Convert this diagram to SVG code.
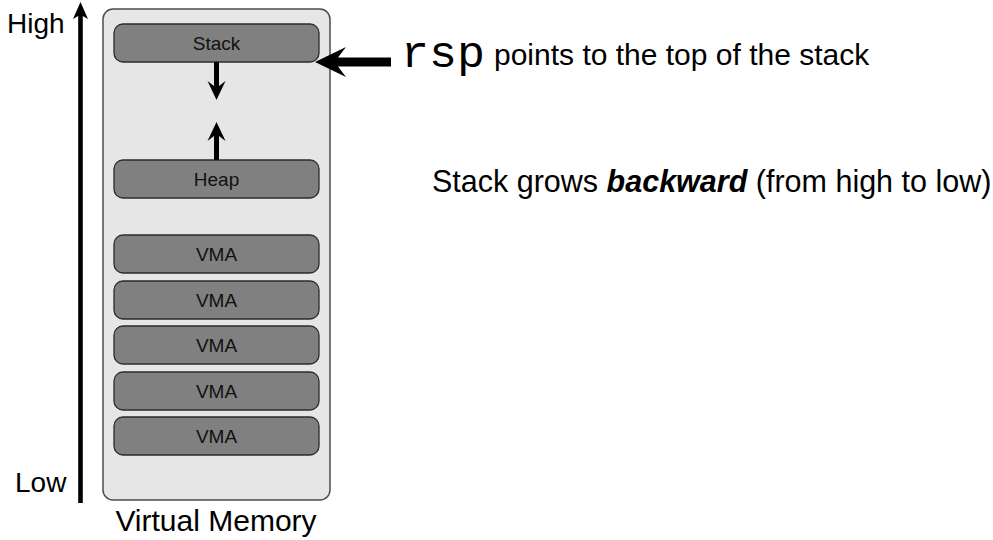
<svg xmlns="http://www.w3.org/2000/svg" width="993" height="540" viewBox="0 0 993 540">
  <style>
    .sans { font-family: "Liberation Sans", Arial, sans-serif; fill: #000; }
    .mono { font-family: "Liberation Mono", "Courier New", monospace; fill: #000; }
    .region { fill: #808080; stroke: #2b2b2b; stroke-width: 1.3; }
    .region-label { font-family: "Liberation Sans", Arial, sans-serif; font-size: 19px; fill: #111; text-anchor: middle; }
    .arrow { fill: #000; stroke: none; }
  </style>

  <rect width="993" height="540" fill="#fff"/>

  <!-- address space container -->
  <g id="virtual-memory">
    <rect x="103" y="9" width="227" height="491" rx="10" ry="10" fill="#e6e6e6" stroke="#4d4d4d" stroke-width="1.5"/>
    <text class="sans" x="216" y="531" font-size="30" text-anchor="middle">Virtual Memory</text>
  </g>

  <g id="stack">
    <rect class="region" x="114" y="24" width="205" height="38" rx="9" ry="9"/>
    <text class="region-label" x="216.5" y="50">Stack</text>
  </g>

  <g id="heap">
    <rect class="region" x="114" y="160" width="205" height="38" rx="9" ry="9"/>
    <text class="region-label" x="216.5" y="186">Heap</text>
  </g>

  <g id="vma1">
    <rect class="region" x="114" y="235" width="205" height="38" rx="9" ry="9"/>
    <text class="region-label" x="216.5" y="261">VMA</text>
  </g>
  <g id="vma2">
    <rect class="region" x="114" y="281" width="205" height="38" rx="9" ry="9"/>
    <text class="region-label" x="216.5" y="307">VMA</text>
  </g>
  <g id="vma3">
    <rect class="region" x="114" y="326" width="205" height="38" rx="9" ry="9"/>
    <text class="region-label" x="216.5" y="352">VMA</text>
  </g>
  <g id="vma4">
    <rect class="region" x="114" y="372" width="205" height="38" rx="9" ry="9"/>
    <text class="region-label" x="216.5" y="398">VMA</text>
  </g>
  <g id="vma5">
    <rect class="region" x="114" y="417" width="205" height="38" rx="9" ry="9"/>
    <text class="region-label" x="216.5" y="443">VMA</text>
  </g>

  <!-- address axis -->
  <g id="axis">
    <text class="sans" x="7" y="33" font-size="28">High</text>
    <text class="sans" x="15" y="492" font-size="28">Low</text>
  </g>

  <g id="annotations">
    <text class="mono" x="401" y="67" font-size="45" textLength="84" lengthAdjust="spacingAndGlyphs">rsp</text>
    <text class="sans" x="494" y="65" font-size="30">points to the top of the stack</text>
    <text class="sans" x="432" y="192" font-size="30.5">Stack grows <tspan font-weight="bold" font-style="italic">backward</tspan> (from high to low)</text>
  </g>

  <!-- connectors -->
  <g id="connectors">
    <!-- address axis arrow, pointing up -->
    <polygon class="arrow" points="80.5,2 88,19 82.8,16 82.8,503 78.2,503 78.2,16 73,19"/>
    <!-- stack growth, pointing down -->
    <polygon class="arrow" points="216.5,100 225.5,81 219,86 219,62 214,62 214,86 207.5,81"/>
    <!-- heap growth, pointing up -->
    <polygon class="arrow" points="216.5,122 225.5,141 219,136 219,160 214,160 214,136 207.5,141"/>
    <!-- rsp pointer to stack top -->
    <polygon class="arrow" points="315,62 346,47 338,57.5 391,57.5 391,66.5 338,66.5 346,77"/>
  </g>
</svg>
